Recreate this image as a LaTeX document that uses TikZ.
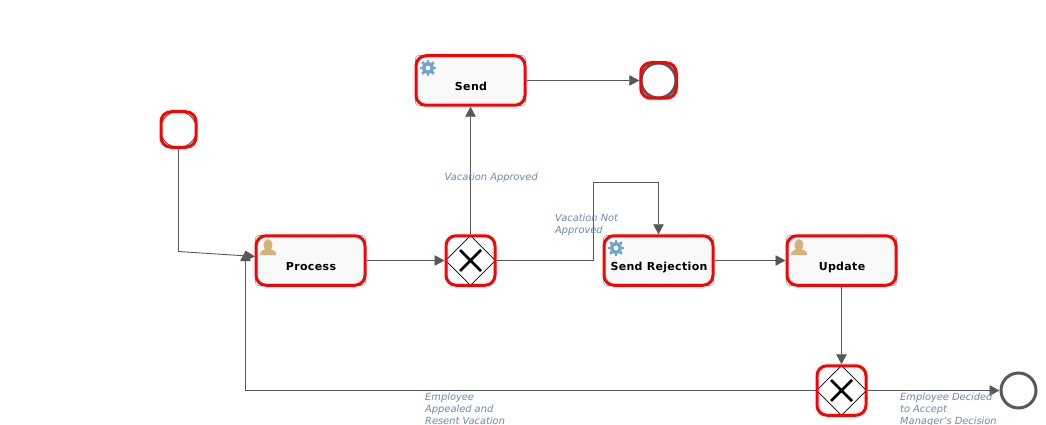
\documentclass[tikz,border=0pt]{standalone}
\usepackage{fontspec}
\setmainfont{DejaVu Sans}
\usetikzlibrary{arrows.meta,shapes.geometric}
\definecolor{flow}{HTML}{585858}
\definecolor{hilite}{HTML}{FF0000}
\definecolor{lbl}{HTML}{6A88B8}
\definecolor{gearc}{HTML}{70A5D3}
\definecolor{personc}{HTML}{D2B478}
\tikzset{
  x=1pt,y=-1pt,
  flowline/.style={draw=flow,line width=.9pt,-{Triangle[length=10pt,width=10.5pt,fill=flow]}},
  plainline/.style={draw=flow,line width=.9pt},
  taskbox/.style={rectangle,rounded corners=10pt,draw=hilite,line width=3pt,fill=black!2.5,minimum width=109pt,minimum height=49.5pt,inner sep=0pt,font=\bfseries\fontsize{11}{12}\selectfont\addfontfeature{LetterSpace=3}},
  backbox/.style={draw=black!35,line width=.6pt,rounded corners=3pt},
  ringbox/.style={rectangle,rounded corners=10pt,draw=hilite,line width=3pt,inner sep=0pt},
  gatemark/.style={diamond,draw=black,line width=.8pt,fill=white,minimum width=50pt,minimum height=50pt,inner sep=0pt},
  xmark/.style={line width=2.8pt,black},
  eventc/.style={circle,draw=flow,line width=3pt,fill=white,minimum size=35pt,inner sep=0pt},
  note/.style={anchor=north west,align=left,inner sep=0pt,text=lbl,font=\itshape\fontsize{9.85}{12}\selectfont},
}
\newcommand{\gearicon}[2]{%
  \foreach \a in {0,45,...,315}{\draw[gearc,line width=2.6pt] ({#1+5.5*cos(\a)},{#2+5.5*sin(\a)}) -- ({#1+8.3*cos(\a)},{#2+8.3*sin(\a)});}
  \draw[gearc,line width=3.4pt] (#1,#2) circle[radius=4.4pt];}
\newcommand{\personicon}[2]{%
  \fill[personc] (#1,#2-3) ellipse[x radius=4.4pt,y radius=5.8pt];
  \fill[personc] (#1-8,#2+7) -- (#1-8,#2+5) .. controls (#1-7,#2+2.5) and (#1-3,#2+2) .. (#1-2,#2+0) -- (#1+2,#2+0) .. controls (#1+3,#2+2) and (#1+7,#2+2.5) .. (#1+8,#2+5) -- (#1+8,#2+7) -- cycle;}
\newcommand{\taskat}[4]{%
  \draw[backbox] (#3-55,#4-25) rectangle (#3+55,#4+25);
  \node[taskbox] (#1) at (#3,#4) {\hspace{1pt}\smash{\raisebox{-10pt}{#2}}};}
\newcommand{\gateat}[3]{%
  \node[gatemark] (#1) at (#2,#3) {};
  \node[ringbox,minimum width=49pt,minimum height=49.5pt] (#1r) at (#2,#3) {};
  \draw[xmark] (#2-10.5,#3-10.5) -- (#2+10.5,#3+10.5) (#2-10.5,#3+10.5) -- (#2+10.5,#3-10.5);}
\begin{document}
\begin{tikzpicture}
\useasboundingbox (0,0) rectangle (1046,425);
% nodes
\taskat{send}{Send}{470.5}{80.5}
\taskat{process}{Process}{310.5}{260.5}
\taskat{reject}{Send Rejection}{658.5}{260.5}
\taskat{update}{Update}{841.5}{260.5}
\gearicon{428}{68}
\gearicon{616}{248}
\personicon{268}{248}
\personicon{799}{248}
\gateat{gwa}{470.5}{260.5}
\gateat{gwb}{841.5}{390.5}
\node[circle,draw=flow,line width=1pt,fill=white,minimum size=36pt,inner sep=0pt] (start) at (178.5,129.5) {};
\node[ringbox,minimum width=35pt,minimum height=35.5pt] (startr) at (178.5,129.5) {};
\node[eventc] (endtop) at (658.5,80.5) {};
\node[ringbox,minimum width=35.5pt,minimum height=35.5pt] (endtopr) at (658.5,80.5) {};
\node[eventc] (endlow) at (1018.5,390.5) {};
% free bends
\coordinate (b1) at (178.5,251.5);
\coordinate (b2) at (245.5,390.5);
\coordinate (b3) at (245.5,251);
\coordinate (b4) at (593.5,260.5);
\coordinate (b5) at (593.5,182.5);
\coordinate (b6) at (658.5,182.5);
\coordinate (pin) at (255,256.5);
% connectors
\draw[plainline] (startr.south) -- (b1);
\draw[flowline] (b1) -- (pin);
\draw[plainline] (gwbr.west) -- (b2);
\draw[flowline] (b2) -- (b3);
\draw[flowline] (process.east) -- (gwar.west);
\draw[flowline] (gwar.north) -- (send.south);
\draw[flowline] (send.east) -- (endtopr.west);
\draw[flowline] (gwar.east) -- (b4) -- (b5) -- (b6) -- (reject.north);
\draw[flowline] (reject.east) -- (update.west);
\draw[flowline] (update.south) -- (gwbr.north);
\draw[flowline] (gwbr.east) -- (endlow.west);
% labels
\node[note] (n1) at (444.5,172.5) {Vacation Approved};
\node[note] (n2) at (555,213.5) {Vacation Not\\Approved};
\node[note] (n3) at (425,392.5) {Employee\\Appealed and\\Resent Vacation};
\node[note] (n4) at (900,392.5) {Employee Decided\\to Accept\\Manager's Decision};
\end{tikzpicture}
\end{document}
